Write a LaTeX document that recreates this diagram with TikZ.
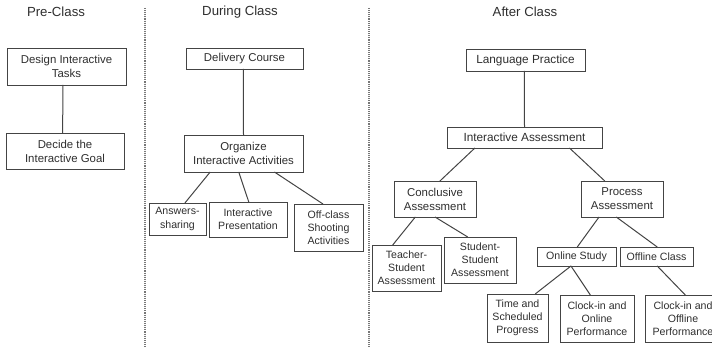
\documentclass[tikz,border=0pt]{standalone}
\usepackage{fontspec}
\setmainfont{Liberation Sans}
\usetikzlibrary{calc}
\definecolor{ink}{HTML}{2E2E2E}
\definecolor{edge}{HTML}{444444}
\definecolor{sep}{HTML}{777777}
\tikzset{
  box/.style={draw=edge, line width=0.9pt, inner sep=0pt, outer sep=0pt,
    align=center, text=ink},
  lg/.style={font=\fontsize{11.8}{14}\selectfont},
  md/.style={font=\fontsize{11.4}{14}\selectfont},
  sm/.style={font=\fontsize{10.6}{13.2}\selectfont},
  title/.style={text=ink, font=\fontsize{13.2}{15}\selectfont},
  link/.style={draw=edge, line width=1pt},
  divider/.style={draw=sep, line width=1.4pt, dash pattern=on 1.1pt off 1pt}
}
\newcommand{\bx}[5]{\node[box,#5, minimum width=#3pt, minimum height=#4pt] (#1) at #2}
\begin{document}
\begin{tikzpicture}[x=1pt,y=-1pt]
\useasboundingbox (0,0) rectangle (712,347);
\begin{scope}
\clip (0,0) rectangle (712,347);

% phase dividers
\coordinate (d1t) at (145,8);  \coordinate (d1b) at (145,347);
\coordinate (d2t) at (369,8);  \coordinate (d2b) at (369,347);
\draw[divider] (d1t) -- (d1b);
\draw[divider] (d2t) -- (d2b);

% phase titles
\node[title] (tpre) at (56,12) {Pre-Class};
\node[title] (tdur) at (240,12) {During Class};
\node[title] (taft) at (525,12) {After Class};

% pre-class
\bx{design}{(66.5,66.5)}{119}{37}{md} {Design Interactive\\Tasks};
\bx{decide}{(65,151)}{118}{36}{md} {Decide the\\Interactive Goal};

% during class
\bx{delivery}{(244.5,58.5)}{117}{21}{md} {Delivery Course};
\bx{organize}{(243.5,153.5)}{119}{37}{md} {Organize\\Interactive Activities};
\bx{answers}{(177.5,219)}{57}{32}{sm} {Answers-\\sharing};
\bx{present}{(248,219.5)}{78}{35}{sm} {Interactive\\Presentation};
\bx{offclass}{(328.5,227.5)}{69}{47}{sm} {Off-class\\Shooting\\Activities};

% after class
\bx{language}{(525.5,60)}{119}{22}{lg} {Language Practice};
\bx{iassess}{(524.5,137.5)}{155}{21}{lg} {Interactive Assessment};
\bx{concl}{(435,199)}{82}{36}{md} {Conclusive\\Assessment};
\bx{process}{(622,199)}{82}{36}{md} {Process\\Assessment};
\bx{teacher}{(406.5,268)}{69}{46}{sm} {Teacher-\\Student\\Assessment};
\bx{student}{(480,260)}{72}{46}{sm} {Student-\\Student\\Assessment};
\bx{online}{(576.5,256.5)}{79}{19}{sm} {Online Study};
\bx{offline}{(656.5,256.5)}{73}{19}{sm} {Offline Class};
\bx{timeprog}{(517.5,318)}{61}{48}{sm} {Time and\\Scheduled\\Progress};
\bx{clockon}{(597,318.5)}{74}{47}{sm} {Clock-in and\\Online\\Performance};
\bx{clockoff}{(683,318.5)}{76}{47}{sm} {Clock-in and\\Offline\\Performance};

% connectors: parent bottom edge to child top edge
\newcommand{\tie}[4]{\draw[link] ($(#1.south west)!#2!(#1.south east)$) -- ($(#3.north west)!#4!(#3.north east)$);}
\tie{design}{0.47}{decide}{0.48}
\tie{delivery}{0.49}{organize}{0.50}
\tie{organize}{0.22}{answers}{0.63}
\tie{organize}{0.46}{present}{0.51}
\tie{organize}{0.76}{offclass}{0.42}
\tie{language}{0.49}{iassess}{0.50}
\tie{iassess}{0.18}{concl}{0.56}
\tie{iassess}{0.79}{process}{0.29}
\tie{concl}{0.26}{teacher}{0.30}
\tie{concl}{0.50}{student}{0.33}
\tie{process}{0.22}{online}{0.51}
\tie{process}{0.43}{offline}{0.51}
\tie{online}{0.43}{timeprog}{0.79}
\tie{online}{0.43}{clockon}{0.41}
\tie{offline}{0.51}{clockoff}{0.53}
\end{scope}
\end{tikzpicture}
\end{document}
